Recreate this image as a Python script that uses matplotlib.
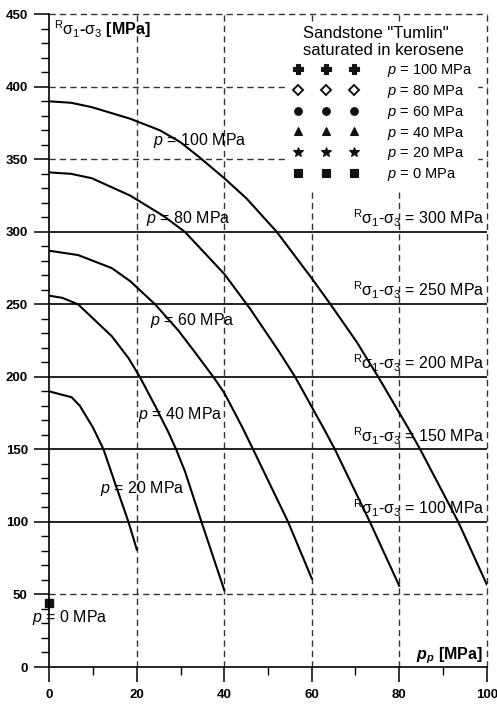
import matplotlib
matplotlib.use("Agg")
import matplotlib.pyplot as plt
from matplotlib.lines import Line2D
from matplotlib.ticker import MultipleLocator

# Values: pore pressure p_p [MPa] vs R(s1-s3) [MPa]
p100_pp = [0, 5, 9.7, 18.5, 25.3, 29.9, 34.5, 40, 45.1, 52, 60, 64.3, 70.3,
           75.2, 82.1, 84.8, 93.5, 100]
p100_dev = [390, 389, 386, 378, 370, 362, 351, 337, 323, 300, 268, 250, 224,
            200, 164.5, 150, 100, 57]

p80_pp = [0, 5, 9.7, 18.5, 26.1, 31, 40, 45.9, 52.4, 56.2, 63, 65.3, 73.3, 80]
p80_dev = [341, 340, 337, 325, 311, 300, 271, 247, 218, 200, 163, 150, 100, 56]

p60_pp = [0, 6.6, 14.3, 18.5, 24.2, 29.5, 33.3, 37.5, 40, 44, 46.6, 54.6, 60]
p60_dev = [287, 284, 275, 266, 250, 232, 217, 200, 189, 166, 150, 100, 61]

p40_pp = [0, 3, 6.6, 14.3, 18.1, 20.7, 24.2, 27.2, 29, 31, 34.8, 40]
p40_dev = [256, 254.5, 250, 228, 213, 200, 180, 162, 150, 135, 100, 53]

p20_pp = [0, 5.1, 7, 10, 12.4, 15, 18.1, 20]
p20_dev = [190, 186, 180, 165, 150, 127, 100, 81]

p0_pp = [0]
p0_dev = [44]

levels = [100, 150, 200, 250, 300]
dashed_y = [50, 350, 400, 450]
dashed_x = [20, 40, 60, 80, 100]

legend_labels = ["$p$ = 100 MPa", "$p$ = 80 MPa", "$p$ = 60 MPa",
                 "$p$ = 40 MPa", "$p$ = 20 MPa", "$p$ = 0 MPa"]

plt.rcParams["font.family"] = "Liberation Sans"
plt.rcParams["mathtext.fontset"] = "custom"
plt.rcParams["mathtext.rm"] = "Liberation Sans"
plt.rcParams["mathtext.it"] = "Liberation Sans:italic"
plt.rcParams["mathtext.bf"] = "Liberation Sans:bold"
plt.rcParams["mathtext.bfit"] = "Liberation Sans:italic:bold"

fig = plt.figure(figsize=(4.97, 7.05), dpi=100)
ax = fig.add_axes([0.0992, 0.0539, 0.8801, 0.9258])
ax.set_xlim(0, 100)
ax.set_ylim(0, 450)

# dashed grid
dash_kw = dict(color="#333333", lw=1.0, dashes=(4.5, 3), zorder=1, clip_on=False)
for y in dashed_y:
    ax.axhline(y, **dash_kw)
for x in dashed_x:
    ax.axvline(x, **dash_kw)

# constant R(s1-s3) levels
for lv in levels:
    ax.axhline(lv, color="#222222", lw=1.4, zorder=2)
    ax.text(99.6, lv + 2, r"$^{\mathrm{R}}\mathrm{\sigma}_{1}$-$\mathrm{\sigma}_{3}$ = %d MPa" % lv,
            ha="right", va="bottom", fontsize=11.5, zorder=3)

# failure curves
for xs, ys in [(p100_pp, p100_dev), (p80_pp, p80_dev), (p60_pp, p60_dev),
               (p40_pp, p40_dev), (p20_pp, p20_dev)]:
    ax.plot(xs, ys, color="black", lw=1.5, zorder=4, solid_joinstyle="round")
ax.plot(p0_pp, p0_dev, "s", color="#111111", ms=5.5, clip_on=False, zorder=5)

# curve labels
lab_kw = dict(fontsize=11.5, va="center", ha="left", zorder=6)
ax.text(23.6, 363, "$p$ = 100 MPa", **lab_kw)
ax.text(22.1, 309, "$p$ = 80 MPa", **lab_kw)
ax.text(23.0, 239, "$p$ = 60 MPa", **lab_kw)
ax.text(20.3, 174, "$p$ = 40 MPa", **lab_kw)
ax.text(11.6, 123, "$p$ = 20 MPa", **lab_kw)
ax.text(-4.0, 34, "$p$ = 0 MPa", **lab_kw)

# axis titles inside the frame
ax.text(1.0, 440, r"$^{\mathrm{R}}\mathrm{\sigma}_{1}$-$\mathrm{\sigma}_{3}$ [MPa]",
        fontsize=11.5, fontweight="bold", ha="left", va="center")
ax.text(99.2, 8, r"$\mathbfit{p}_{\mathbfit{p}}$ [MPa]", fontsize=11.5,
        fontweight="bold", ha="right", va="center")

# legend with three markers per entry
markers = ["P", "D", "o", "^", "*", "s"]
sizes = [6.5, 5, 5.5, 5.5, 7, 5.5]
handles = []
for m, s, lab in zip(markers, sizes, legend_labels):
    face = "white" if m == "D" else "#111111"
    handles.append(Line2D([], [], ls="none", marker=m, ms=s, mfc=face,
                          mec="#111111", mew=1.4 if m == "D" else 0.8, label=lab))
leg = ax.legend(handles=handles, numpoints=3, handlelength=4.4, handletextpad=2.0,
                title='Sandstone "Tumlin"\nsaturated in kerosene', title_fontsize=12,
                fontsize=10.5, labelspacing=0.26, loc="upper right",
                bbox_to_anchor=(0.995, 1.0), frameon=True, borderpad=0.3,
                fancybox=False)
leg.get_frame().set_edgecolor("white")
leg.get_frame().set_facecolor("white")
leg.get_frame().set_alpha(1.0)
leg.set_zorder(7)

# spines and ticks
for side in ["top", "right"]:
    ax.spines[side].set_visible(False)
for side in ["left", "bottom"]:
    ax.spines[side].set_linewidth(1.2)
    ax.spines[side].set_zorder(8)
ax.xaxis.set_major_locator(MultipleLocator(20))
ax.xaxis.set_minor_locator(MultipleLocator(10))
ax.yaxis.set_major_locator(MultipleLocator(50))
ax.yaxis.set_minor_locator(MultipleLocator(10))
ax.tick_params(which="major", direction="out", length=10.5, width=1.1,
               labelsize=9.5, pad=5)
ax.tick_params(which="minor", direction="out", length=5.5, width=1.0)
for lab in ax.get_xticklabels() + ax.get_yticklabels():
    lab.set_fontweight("bold")

fig.savefig("out.png", dpi=100)
